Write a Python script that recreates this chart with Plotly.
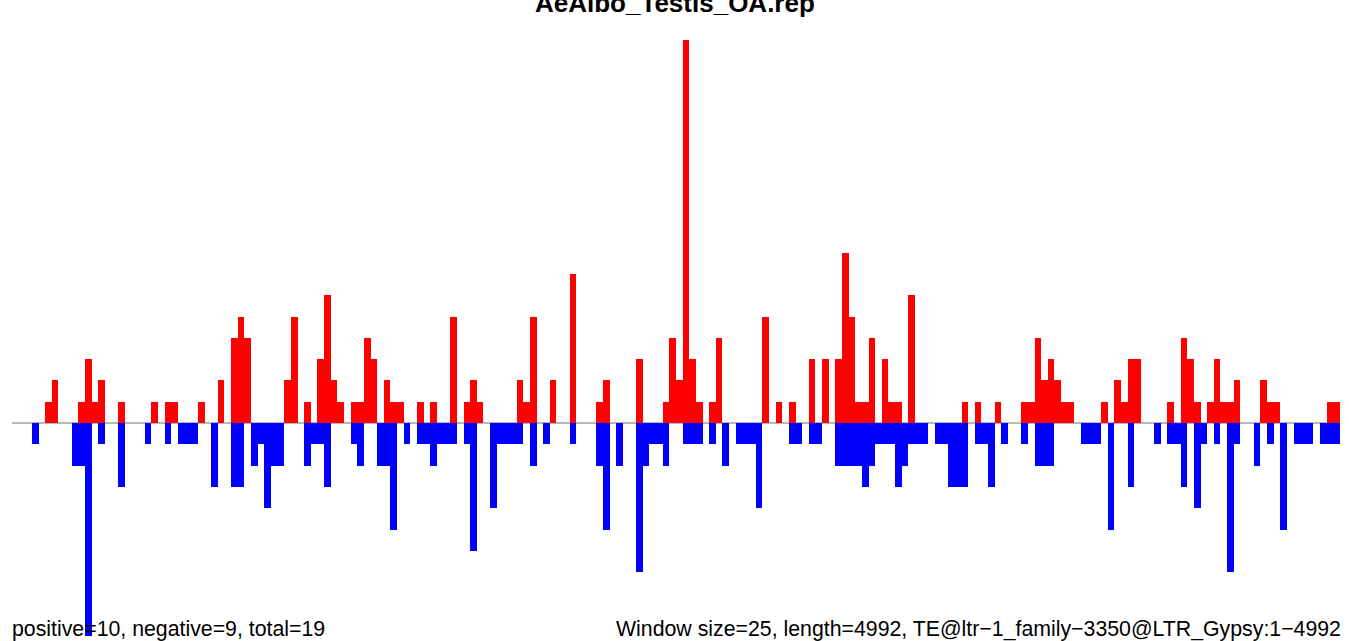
import plotly.graph_objects as go

title = "AeAlbo_Testis_OA.rep"
left_note = "positive=10, negative=9, total=19"
right_note = "Window size=25, length=4992, TE@ltr\u22121_family\u22123350@LTR_Gypsy:1\u22124992"

# reads per 25bp window (200 windows), plus strand above, minus strand below
plus_counts = [
    0, 0, 0, 0, 0, 1, 2, 0, 0, 0, 1, 3, 1, 2, 0, 0, 1, 0, 0, 0,
    0, 1, 0, 1, 1, 0, 0, 0, 1, 0, 0, 2, 0, 4, 5, 4, 0, 0, 0, 0,
    0, 2, 5, 0, 1, 0, 3, 6, 2, 1, 0, 1, 1, 4, 3, 0, 2, 1, 1, 0,
    0, 1, 0, 1, 0, 0, 5, 0, 1, 2, 1, 0, 0, 0, 0, 0, 2, 1, 5, 0,
    0, 2, 0, 0, 7, 0, 0, 0, 1, 2, 0, 0, 0, 0, 3, 0, 0, 0, 1, 4,
    2, 18, 3, 1, 0, 1, 4, 0, 0, 0, 0, 0, 0, 5, 0, 1, 0, 1, 0, 0,
    3, 0, 3, 0, 3, 8, 5, 1, 1, 4, 0, 3, 1, 1, 0, 6, 0, 0, 0, 0,
    0, 0, 0, 1, 0, 1, 0, 0, 1, 0, 0, 0, 1, 1, 4, 2, 3, 2, 1, 1,
    0, 0, 0, 0, 1, 0, 2, 1, 3, 3, 0, 0, 0, 0, 1, 0, 4, 3, 1, 0,
    1, 3, 1, 1, 2, 0, 0, 0, 2, 1, 1, 0, 0, 0, 0, 0, 0, 0, 1, 1,
]
minus_counts = [
    0, 0, 0, 1, 0, 0, 0, 0, 0, 2, 2, 10, 0, 1, 0, 0, 3, 0, 0, 0,
    1, 0, 0, 1, 0, 1, 1, 1, 0, 0, 3, 0, 0, 3, 3, 0, 2, 1, 4, 2,
    2, 0, 0, 0, 2, 1, 1, 3, 0, 0, 0, 1, 2, 0, 0, 2, 2, 5, 0, 1,
    0, 1, 1, 2, 1, 1, 1, 0, 1, 6, 0, 0, 4, 1, 1, 1, 1, 0, 2, 0,
    1, 0, 0, 0, 1, 0, 0, 0, 2, 5, 0, 2, 0, 0, 7, 2, 1, 1, 2, 0,
    0, 1, 1, 1, 0, 1, 0, 2, 0, 1, 1, 1, 4, 0, 0, 0, 0, 1, 1, 0,
    1, 1, 0, 0, 2, 2, 2, 2, 3, 2, 1, 1, 1, 3, 2, 1, 1, 1, 0, 1,
    1, 3, 3, 3, 0, 1, 1, 3, 0, 1, 0, 0, 1, 0, 2, 2, 2, 0, 0, 0,
    0, 1, 1, 1, 0, 5, 0, 0, 3, 0, 0, 0, 1, 0, 1, 1, 3, 0, 4, 1,
    0, 1, 0, 7, 1, 0, 0, 2, 0, 1, 0, 5, 0, 1, 1, 1, 0, 1, 1, 1,
]

n = len(plus_counts)
xs = [i + 0.5 for i in range(n)]

fig = go.Figure()
fig.add_trace(go.Bar(x=xs, y=plus_counts, width=1, marker=dict(color="#ff0000", line_width=0)))
fig.add_trace(go.Bar(x=xs, y=[-v for v in minus_counts], width=1, marker=dict(color="#0000ff", line_width=0)))

fig.add_shape(type="line", x0=0, x1=n, y0=0, y1=0, layer="below",
              line=dict(color="#a0a0a0", width=1.5))

font = "Liberation Sans, Arial, sans-serif"
fig.add_annotation(text="<b>" + title + "</b>", xref="paper", yref="paper", x=675 / 1349, y=1,
                   xanchor="center", yanchor="bottom", yshift=-20, showarrow=False,
                   font=dict(family=font, size=26, color="black"))
fig.add_annotation(text=left_note, xref="paper", yref="paper", x=10 / 1349, y=0,
                   xanchor="left", yanchor="bottom", yshift=-2, showarrow=False,
                   font=dict(family=font, size=21.3, color="black"))
fig.add_annotation(text=right_note, xref="paper", yref="paper", x=1343 / 1349, y=0,
                   xanchor="right", yanchor="bottom", yshift=-2, showarrow=False,
                   font=dict(family=font, size=21.3, color="black"))

fig.update_layout(
    width=1349, height=641,
    margin=dict(l=0, r=0, t=0, b=0),
    paper_bgcolor="white", plot_bgcolor="white",
    barmode="overlay", bargap=0, showlegend=False,
    xaxis=dict(range=[-12 / 6.64, 1337 / 6.64], visible=False, fixedrange=True),
    yaxis=dict(range=[-218 / 21.3, 423 / 21.3], visible=False, fixedrange=True),
)

fig.write_html("out.html", config={"displayModeBar": False},
               post_script="document.body.style.margin='0';document.body.style.overflow='hidden';")
